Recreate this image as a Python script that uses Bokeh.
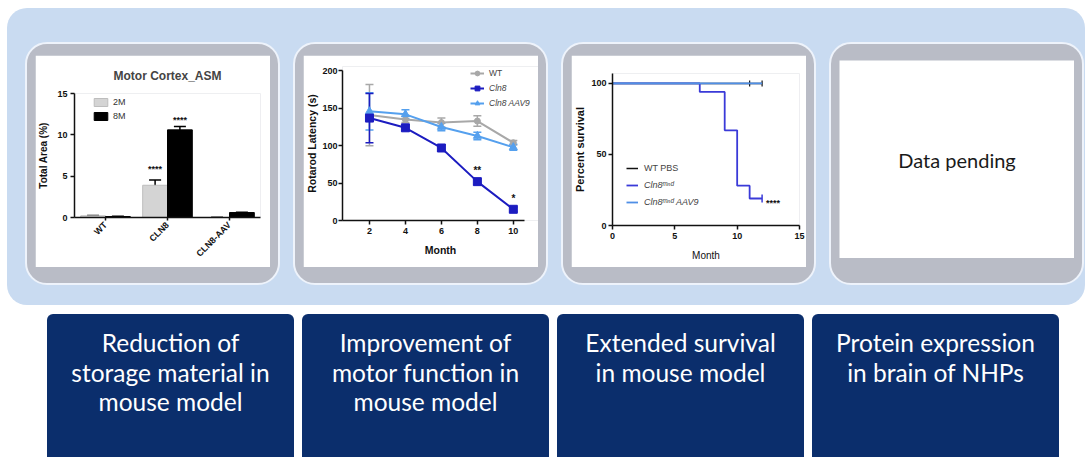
import math
from bokeh.plotting import figure
from bokeh.models import (Range1d, FactorRange, ColumnDataSource, Whisker, TeeHead,
                          Legend, LegendItem, FixedTicker, Div)
from bokeh.transform import dodge
from bokeh.layouts import row, column
from bokeh.core.properties import value
from bokeh.embed import file_html
from bokeh.resources import INLINE

# ---------------- data ----------------
# Panel 1: Motor Cortex_ASM
asm_title = "Motor Cortex_ASM"
asm_groups = ["WT", "CLN8", "CLN8-AAV"]
asm_2m = [0.2, 3.9, 0.0]
asm_2m_err = [0.05, 0.65, 0.0]
asm_8m = [0.12, 10.6, 0.6]
asm_8m_err = [0.02, 0.4, 0.05]
asm_2m_sig = ["", "****", ""]
asm_8m_sig = ["", "****", ""]
asm_y_ticks = [0, 5, 10, 15]

# Panel 2: Rotarod latency
months = [2, 4, 6, 8, 10]
wt_mean = [141, 135, 131, 133, 104]
wt_err = [41, 4, 6, 7, 3]
cln8_mean = [137, 124, 97, 52, 15]
cln8_err = [33, 4, 4, 4, 3]
aav9_mean = [146, 142, 125, 113, 98]
aav9_err = [25, 6, 5, 5, 4]
cln8_sig = ["", "", "", "**", "*"]
rot_y_ticks = [0, 50, 100, 150, 200]

# Panel 3: survival
surv_wt_t = [0, 12]
surv_wt = [100, 100]
surv_wt_censor_t = [11, 12]
surv_cln8_t = [0, 7, 9, 10, 11, 12]
surv_cln8 = [100, 94, 67, 28, 19, 19]
surv_aav9_t = [0, 12]
surv_aav9 = [100, 100]
surv_sig = "****"
surv_x_ticks = [0, 5, 10, 15]
surv_y_ticks = [0, 50, 100]

# Panel 4
pending_text = "Data pending"

# Bottom boxes
box_texts = [
    ["Reduction of", "storage material in", "mouse model"],
    ["Improvement of", "motor function in", "mouse model"],
    ["Extended survival", "in mouse model"],
    ["Protein expression", "in brain of NHPs"],
]

# ---------------- styles ----------------
FONT = "Liberation Sans"
LIGHT_BLUE = "#c9dbf1"
PANEL_GRAY = "#b9bcc6"
DARK_BLUE = "#0b2e6c"


def base_fig(**kw):
    p = figure(output_backend="svg", toolbar_location=None, **kw)
    p.border_fill_color = "white"
    p.background_fill_color = "white"
    p.outline_line_color = None
    p.grid.visible = False
    return p


def style_axes(p, tick_size="9px", label_size="10px"):
    for ax in p.axis:
        ax.axis_line_width = 1.5
        ax.axis_line_color = "#111111"
        ax.major_tick_line_width = 1.5
        ax.major_tick_line_color = "#111111"
        ax.major_tick_out = 4
        ax.major_tick_in = 0
        ax.minor_tick_out = 0
        ax.minor_tick_in = 0
        ax.major_label_text_font = FONT
        ax.major_label_text_font_style = "bold"
        ax.major_label_text_font_size = tick_size
        ax.major_label_text_color = "#111111"
        ax.major_label_standoff = 3
        ax.axis_label_text_font = FONT
        ax.axis_label_text_font_style = "bold"
        ax.axis_label_text_font_size = label_size
        ax.axis_label_text_color = "#111111"


def legend(items, loc, italic=False, size="8.5px", gw=14, gh=12, spacing=3, standoff=5, color="#444444"):
    lg = Legend(items=items, location=loc)
    lg.label_text_font = FONT
    lg.label_text_font_size = size
    lg.label_text_color = color
    lg.label_text_font_style = "italic" if italic else "normal"
    lg.glyph_width = gw
    lg.glyph_height = gh
    lg.label_height = gh
    lg.spacing = spacing
    lg.label_standoff = standoff
    lg.padding = 0
    lg.margin = 0
    lg.border_line_color = None
    lg.background_fill_alpha = 0
    return lg


# ---------------- panel 1 ----------------
p1 = base_fig(width=235, height=212,
              x_range=FactorRange(*asm_groups), y_range=Range1d(0, 15),
              min_border_left=37, min_border_right=10, min_border_top=38, min_border_bottom=50,
              title=asm_title)
p1.title.text_font = FONT
p1.title.text_font_size = "12px"
p1.title.text_font_style = "bold"
p1.title.align = "center"
p1.title.standoff = 21
src1 = ColumnDataSource(dict(
    g=asm_groups, v2=asm_2m, v8=asm_8m,
    u2=[v + e for v, e in zip(asm_2m, asm_2m_err)], l2=[v - e for v, e in zip(asm_2m, asm_2m_err)],
    u8=[v + e for v, e in zip(asm_8m, asm_8m_err)], l8=[v - e for v, e in zip(asm_8m, asm_8m_err)],
    s2=asm_2m_sig, s8=asm_8m_sig))
x2 = dodge("g", -0.2, range=p1.x_range)
x8 = dodge("g", 0.2, range=p1.x_range)
r2 = p1.vbar(x=x2, top="v2", width=0.4, source=src1, fill_color="#d4d4d4", line_color="#bdbdbd")
r8 = p1.vbar(x=x8, top="v8", width=0.4, source=src1, fill_color="#000000", line_color="#000000")
for base, up, lo in ((x2, "u2", "l2"), (x8, "u8", "l8")):
    p1.add_layout(Whisker(base=base, upper=up, lower=lo, source=src1, line_width=1.5, line_color="black",
                          upper_head=TeeHead(size=12, line_width=1.5, line_color="black"),
                          lower_head=TeeHead(size=12, line_width=1.5, line_color="black")))
for base, up, s, off in ((x2, "u2", "s2", -6), (x8, "u8", "s8", -2)):
    p1.text(x=base, y=up, text=s, source=src1, text_align="center", text_baseline="bottom",
            y_offset=off, text_font=value(FONT), text_font_size="9px", text_font_style="bold",
            text_color="#111111")
p1.yaxis.ticker = FixedTicker(ticks=asm_y_ticks)
p1.yaxis.axis_label = "Total Area (%)"
style_axes(p1, tick_size="9px", label_size="10px")
p1.xaxis.major_label_orientation = math.pi / 4
p1.xaxis.major_label_text_font_size = "9px"
p1.xaxis.major_tick_out = 3
p1.yaxis.axis_label_standoff = 5
# legend: location is the legend's bottom-left corner, measured from the frame's bottom-left
p1.add_layout(legend([LegendItem(label="2M", renderers=[r2]), LegendItem(label="8M", renderers=[r8])],
                     (18, 96), size="9px", gw=17, gh=10, spacing=4, standoff=4, color="#333333"))

# ---------------- panel 2 ----------------
# frame is a little larger than the axes (bounded axis lines) so the legend is not clipped
p2 = base_fig(width=235, height=212, x_range=Range1d(0.5, 11.4), y_range=Range1d(0, 206),
              min_border_left=38, min_border_right=0, min_border_top=11, min_border_bottom=47)
series = [
    ("WT", wt_mean, wt_err, "#a8a8a8", "circle", 6),
    ("Cln8 AAV9", aav9_mean, aav9_err, "#55a0ee", "triangle", 8),
    ("Cln8", cln8_mean, cln8_err, "#1c1cc0", "square", 8),
]
rend2 = {}
for name, m, e, col, mk, sz in series:
    s = ColumnDataSource(dict(x=months, y=m, up=[a + b for a, b in zip(m, e)], lo=[a - b for a, b in zip(m, e)]))
    p2.add_layout(Whisker(base="x", upper="up", lower="lo", source=s, line_width=1.5, line_color=col,
                          upper_head=TeeHead(size=8, line_width=1.5, line_color=col),
                          lower_head=TeeHead(size=8, line_width=1.5, line_color=col)))
    ln = p2.line("x", "y", source=s, line_color=col, line_width=2)
    sc = p2.scatter("x", "y", source=s, marker=mk, size=sz, fill_color=col, line_color=col)
    rend2[name] = [ln, sc]
sig_src = ColumnDataSource(dict(x=months, y=[a + b for a, b in zip(cln8_mean, cln8_err)], t=cln8_sig))
p2.text(x="x", y="y", text="t", source=sig_src, text_align="center", text_baseline="bottom", y_offset=-3,
        text_font=value(FONT), text_font_size="10px", text_font_style="bold", text_color="#111111")
p2.xaxis.ticker = FixedTicker(ticks=months)
p2.yaxis.ticker = FixedTicker(ticks=rot_y_ticks)
p2.xaxis.axis_label = "Month"
p2.yaxis.axis_label = "Rotarod Latency (s)"
style_axes(p2, tick_size="9px", label_size="10.5px")
p2.xaxis.bounds = (0.5, 10.6)
p2.yaxis.bounds = (0, 200)
p2.yaxis.major_label_standoff = 1
p2.yaxis.axis_label_standoff = 1
p2.xaxis.axis_label_standoff = 7
p2.add_layout(legend([LegendItem(label="WT", renderers=rend2["WT"])], (128, 141), size="8.5px"))
p2.add_layout(legend([LegendItem(label="Cln8", renderers=rend2["Cln8"]),
                      LegendItem(label="Cln8 AAV9", renderers=rend2["Cln8 AAV9"])], (128, 111),
                     italic=True, size="8.5px"))

# ---------------- panel 3 ----------------
p3 = base_fig(width=235, height=212, x_range=Range1d(0, 15), y_range=Range1d(0, 107),
              min_border_left=40, min_border_right=7, min_border_top=18, min_border_bottom=42)
r_wt = p3.step(surv_wt_t, surv_wt, mode="after", line_color="#111111", line_width=1.5)
p3.scatter(surv_wt_censor_t, [surv_wt[-1]] * len(surv_wt_censor_t), marker="dash", angle=math.pi / 2,
           size=6, line_color="#111111", line_width=1.2)
r_cl = p3.step(surv_cln8_t, surv_cln8, mode="after", line_color="#3a3ad8", line_width=1.8)
p3.scatter([surv_cln8_t[-1]], [surv_cln8[-1]], marker="dash", angle=math.pi / 2, size=8,
           line_color="#3a3ad8", line_width=1.5)
r_av = p3.step(surv_aav9_t, surv_aav9, mode="after", line_color="#4f8fe6", line_width=1.8)
p3.text(x=[surv_cln8_t[-1]], y=[surv_cln8[-1]], text=[surv_sig], x_offset=4, y_offset=4,
        text_align="left", text_baseline="middle", text_font=value(FONT), text_font_size="9px",
        text_font_style="bold", text_color="#111111")
p3.xaxis.ticker = FixedTicker(ticks=surv_x_ticks)
p3.yaxis.ticker = FixedTicker(ticks=surv_y_ticks)
p3.xaxis.axis_label = "Month"
p3.yaxis.axis_label = "Percent survival"
style_axes(p3, tick_size="9px", label_size="10px")
p3.yaxis.axis_label_text_font_size = "11px"
p3.xaxis.axis_label_text_font_style = "normal"
p3.yaxis.major_label_standoff = 2
p3.yaxis.axis_label_standoff = 2
p3.xaxis.axis_label_standoff = 8
p3.add_layout(legend([LegendItem(label="WT PBS", renderers=[r_wt])], (14, 51), size="9px",
                     gw=12, gh=12, spacing=5, standoff=6))
p3.add_layout(legend([LegendItem(label="Cln8ᵐⁿᵈ", renderers=[r_cl]),
                      LegendItem(label="Cln8ᵐⁿᵈ AAV9", renderers=[r_av])], (14, 17), italic=True,
                     size="9px", gw=12, gh=12, spacing=5, standoff=6))

# ---------------- panel 4 ----------------
p4 = base_fig(width=235, height=198, x_range=Range1d(0, 1), y_range=Range1d(0, 1), min_border=0)
p4.axis.visible = False
p4.text(x=[0.5], y=[0.5], text=[pending_text], text_align="center", text_baseline="middle",
        text_font=value("Lato"), text_font_size="20px", text_color="#1a1a1a")


# ---------------- layout ----------------
def panel(p, pad):
    return column(p, styles={"background-color": PANEL_GRAY, "border": "2px solid #eef3fb",
                             "border-radius": "22px", "padding": pad})


panels = [panel(p1, "11px 8px 16px 8px"), panel(p2, "11px 8px 16px 8px"),
          panel(p3, "11px 8px 16px 8px"), panel(p4, "16px 8px 25px 8px")]
top = row(*panels, spacing=13, styles={"background-color": LIGHT_BLUE, "border-radius": "20px",
                                       "padding": "34px 1px 20px 18px",
                                       "margin-left": "7px", "margin-top": "8px"})


def box(lines):
    html = '<div style="padding-top:14px">' + "<br>".join(lines) + "</div>"
    return Div(text=html, width=247, height=143, margin=0,
               styles={"background-color": DARK_BLUE, "color": "white", "font-family": "Lato",
                       "font-size": "24.5px", "line-height": "29.5px", "text-align": "center",
                       "border-radius": "6px 6px 0 0"})


bottom = row(*[box(t) for t in box_texts], spacing=8, styles={"margin-left": "47px", "margin-top": "9px"})
layout = column(top, bottom)

open("out.html", "w").write(file_html(layout, INLINE, title="chart"))
